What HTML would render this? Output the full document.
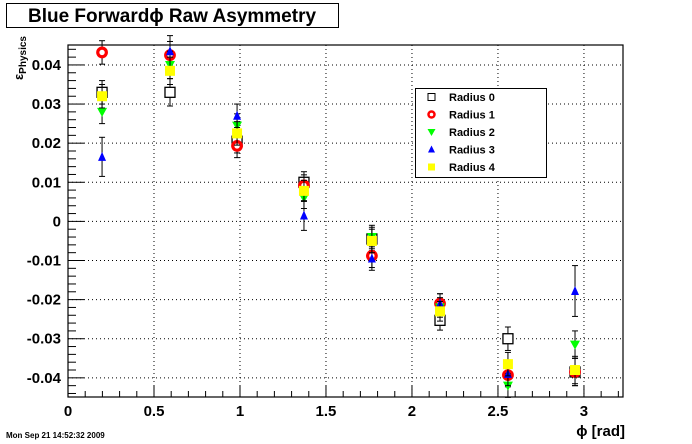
<!DOCTYPE html>
<html><head><meta charset="utf-8"><style>
body{margin:0;background:#fff;}
svg{display:block;font-family:"Liberation Sans",sans-serif;}
</style></head><body>
<svg id="c" width="692" height="444" viewBox="0 0 692 444">
<rect x="0" y="0" width="692" height="444" fill="#fff"/>
<rect x="6.5" y="3.5" width="332" height="24" fill="#fff" stroke="#000"/>
<text x="172" y="22" text-anchor="middle" font-size="19" font-weight="bold">Blue Forwardϕ Raw Asymmetry</text>
<g id="grid"></g>
<g id="axes"></g>
<g id="marks"></g>
<text x="625" y="436" text-anchor="end" font-size="15" font-weight="bold">ϕ [rad]</text>
<text transform="translate(23,80) rotate(-90)" font-size="13" font-weight="bold">ε<tspan font-size="10" dy="3">Physics</tspan></text>
<text x="6" y="438" font-size="8" font-weight="bold">Mon Sep 21 14:52:32 2009</text>
<g id="legend"></g>
</svg>
<script>
const xVals=[0.198,0.593,0.983,1.372,1.767,2.163,2.558,2.948];
const r0=[0.033,0.033,0.0205,0.010,-0.0045,-0.0253,-0.030,-0.0385];
const r1=[0.0432,0.0425,0.0193,0.0092,-0.0088,-0.021,-0.0393,-0.0385];
const r2=[0.028,0.040,0.0245,0.006,-0.004,-0.022,-0.042,-0.0315];
const r3=[0.0165,0.0435,0.027,0.0015,-0.0095,-0.021,-0.039,-0.0178];
const r4=[0.032,0.0385,0.0225,0.0078,-0.005,-0.023,-0.0365,-0.038];
const errs=[0.003,0.0035,0.003,0.0027,0.003,0.0025,0.003,0.0035];
const errs3=[0.005,0.004,0.003,0.0038,0.003,0.0025,0.003,0.0065];
const xTicks=["0","0.5","1","1.5","2","2.5","3"];
const yTicks=["-0.04","-0.03","-0.02","-0.01","0","0.01","0.02","0.03","0.04"];
const names=["Radius 0","Radius 1","Radius 2","Radius 3","Radius 4"];

const L=68,R=623,T=45,B=397;
const xmin=0,xmax=3.227,ymin=-0.0449,ymax=0.0451;
const X=v=>L+(v-xmin)/(xmax-xmin)*(R-L);
const Y=v=>B-(v-ymin)/(ymax-ymin)*(B-T);
const NS="http://www.w3.org/2000/svg";
function mk(tag,attrs,parent){const e=document.createElementNS(NS,tag);for(const k in attrs)e.setAttribute(k,attrs[k]);parent.appendChild(e);return e;}
const grid=document.getElementById('grid'),axes=document.getElementById('axes'),marks=document.getElementById('marks'),leg=document.getElementById('legend');

xTicks.forEach(t=>{const v=parseFloat(t),px=X(v);
 if(v>0){const g=mk('line',{x1:px,x2:px,y1:T,y2:B,stroke:'#000','stroke-dasharray':'1,3'},grid);}
 const tx=mk('text',{x:px,y:B+19,'text-anchor':'middle','font-size':15,'font-weight':'bold'},axes);tx.textContent=t;
 
});
yTicks.forEach(t=>{const v=parseFloat(t),py=Y(v);
 const g=mk('line',{x1:L,x2:R,y1:py,y2:py,stroke:'#000','stroke-dasharray':'1,3'},grid);
 const tx=mk('text',{x:L-7,y:py+5,'text-anchor':'end','font-size':15,'font-weight':'bold'},axes);tx.textContent=t;
 
});
for(let i=0;i<=32;i++){const v=i*0.1,px=X(v);const big=i%5===0;
 mk('line',{x1:px,x2:px,y1:B,y2:B-(big?11:6),stroke:'#000'},axes);}
for(let i=-22;i<=22;i++){const v=i*0.002,py=Y(v);const big=i%5===0;
 mk('line',{x1:L,x2:L+(big?16:8),y1:py,y2:py,stroke:'#000'},axes);}
const fr=mk('rect',{x:L,y:T,width:R-L,height:B-T,fill:'none',stroke:'#000','stroke-width':1.2},axes);


function marker(k,cx,cy,p){
 if(k===0)return mk('rect',{x:cx-5,y:cy-5,width:10,height:10,fill:'#fff',stroke:'#000','stroke-width':1.3},p);
 if(k===1)return mk('circle',{cx:cx,cy:cy,r:4.3,fill:'#fff',stroke:'#f00','stroke-width':3.2},p);
 if(k===2)return mk('polygon',{points:`${cx-5},${cy-4} ${cx+5},${cy-4} ${cx},${cy+5}`,fill:'#0f0'},p);
 if(k===3)return mk('polygon',{points:`${cx-4},${cy+4} ${cx+4},${cy+4} ${cx},${cy-5}`,fill:'#00f'},p);
 return mk('rect',{x:cx-5,y:cy-5,width:10,height:10,fill:'#ff0'},p);
}
const series=[r0,r1,r2,r3,r4];
series.forEach((s,k)=>{
 const g=mk('g',{},marks);
 
 
 const ee=k===3?errs3:errs;
 s.forEach((v,i)=>{const cx=X(xVals[i]),cy=Y(v),e=ee[i];
  mk('line',{x1:cx,x2:cx,y1:Y(v+e),y2:Y(v-e),stroke:'#000'},g);
  mk('line',{x1:cx-3,x2:cx+3,y1:Y(v+e),y2:Y(v+e),stroke:'#000'},g);
  mk('line',{x1:cx-3,x2:cx+3,y1:Y(v-e),y2:Y(v-e),stroke:'#000'},g);
 });
 s.forEach((v,i)=>{const m=marker(k,X(xVals[i]),Y(v),g);
  
  });
});
const lb=mk('rect',{x:415.5,y:88.5,width:131,height:89,fill:'#fff',stroke:'#000'},leg);

names.forEach((n,k)=>{const cy=97+k*17.5;
 const g=mk('g',{},leg);
 
 
 if(k===0)mk('rect',{x:428,y:cy-3.5,width:7,height:7,fill:'#fff',stroke:'#000'},g);
 else if(k===1)mk('circle',{cx:431.5,cy:cy,r:3,fill:'#fff',stroke:'#f00','stroke-width':2.5},g);
 else if(k===2)mk('polygon',{points:`427.5,${cy-3} 435.5,${cy-3} 431.5,${cy+4}`,fill:'#0f0'},g);
 else if(k===3)mk('polygon',{points:`428,${cy+3} 435,${cy+3} 431.5,${cy-4}`,fill:'#00f'},g);
 else mk('rect',{x:428,y:cy-3.5,width:7,height:7,fill:'#ff0'},g);
 const t=mk('text',{x:449,y:cy+4,'font-size':11,'font-weight':'bold'},g);t.textContent=n;
});
</script>
</body></html>
